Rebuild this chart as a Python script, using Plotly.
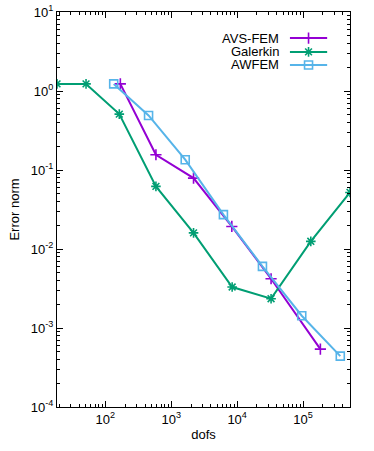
import plotly.graph_objects as go

# Data
galerkin_dofs = [18.5, 51, 163, 586, 2180, 8400, 32700, 131000, 515000]
galerkin_err = [1.23, 1.23, 0.51, 0.062, 0.016, 0.0033, 0.00235, 0.0125, 0.052]

avs_dofs = [169, 586, 2180, 8300, 32700, 183000]
avs_err = [1.23, 0.156, 0.079, 0.0193, 0.0042, 0.00054]

awfem_dofs = [134, 453, 1630, 6190, 24200, 95500, 367000]
awfem_err = [1.23, 0.49, 0.135, 0.0272, 0.00603, 0.00143, 0.00044]

x_tickvals = [1e2, 1e3, 1e4, 1e5]
x_ticktext = ["10<sup>2</sup>", "10<sup>3</sup>", "10<sup>4</sup>", "10<sup>5</sup>"]
y_tickvals = [1e-4, 1e-3, 1e-2, 1e-1, 1e0, 1e1]
y_ticktext = ["10<sup>-4</sup>", "10<sup>-3</sup>", "10<sup>-2</sup>",
              "10<sup>-1</sup>", "10<sup>0</sup>", "10<sup>1</sup>"]

series = [
    ("AVS-FEM", avs_dofs, avs_err, "#9400D3", "cross-thin-open"),
    ("Galerkin", galerkin_dofs, galerkin_err, "#009E73", "asterisk-open"),
    ("AWFEM", awfem_dofs, awfem_err, "#56B4E9", "square-open"),
]

FONT = "Liberation Sans, Arial, sans-serif"
fig = go.Figure()

for name, xs, ys, color, sym in series:
    fig.add_trace(go.Scatter(
        x=xs, y=ys, mode="lines+markers", name=name,
        line=dict(color=color, width=2),
        marker=dict(symbol=sym, size=8, color=color,
                    line=dict(color=color, width=1.6)),
        showlegend=False,
    ))

# gnuplot-style key (text right-aligned, sample to the right)
key_y = [0.934, 0.899, 0.866]
for (name, xs, ys, color, sym), ky in zip(series, key_y):
    fig.add_trace(go.Scatter(
        x=[0.795, 0.922], y=[ky, ky], mode="lines", xaxis="x2", yaxis="y2",
        line=dict(color=color, width=2), showlegend=False, hoverinfo="skip"))
    fig.add_trace(go.Scatter(
        x=[0.8585], y=[ky], mode="markers", xaxis="x2", yaxis="y2",
        marker=dict(symbol=sym, size=8, color=color,
                    line=dict(color=color, width=1.6)),
        showlegend=False, hoverinfo="skip"))
    fig.add_annotation(x=0.764, y=ky, xref="x2", yref="y2", text=name,
                       showarrow=False, xanchor="right", yanchor="middle",
                       font=dict(family=FONT, size=13, color="black"))

axis_common = dict(
    type="log", showgrid=False, zeroline=False, automargin=False,
    showline=True, linecolor="black", linewidth=1, mirror="allticks",
    ticks="inside", ticklen=6, tickwidth=1, tickcolor="black",
    tickfont=dict(family=FONT, size=13, color="black"),
    minor=dict(ticks="inside", ticklen=3, tickwidth=1, tickcolor="black",
               dtick="D1", showgrid=False),
)

fig.update_layout(
    width=374, height=451,
    margin=dict(l=57, r=24, t=12, b=44, autoexpand=False),
    paper_bgcolor="white", plot_bgcolor="white",
    font=dict(family=FONT, size=13, color="black"),
    xaxis=dict(axis_common, range=[1.267, 5.712], tickvals=x_tickvals,
               ticktext=x_ticktext,
               title=dict(text="dofs", standoff=4,
                          font=dict(family=FONT, size=13))),
    yaxis=dict(axis_common, range=[-4, 1], tickvals=y_tickvals,
               ticktext=y_ticktext,
               title=dict(text="Error norm", standoff=8,
                          font=dict(family=FONT, size=13))),
    xaxis2=dict(overlaying="x", range=[0, 1], visible=False, fixedrange=True),
    yaxis2=dict(overlaying="y", range=[0, 1], visible=False, fixedrange=True),
)

fig.write_html("out.html",
               config={"displayModeBar": False, "staticPlot": True},
               post_script="document.body.style.margin='0';"
                           "document.body.style.overflow='hidden';")
